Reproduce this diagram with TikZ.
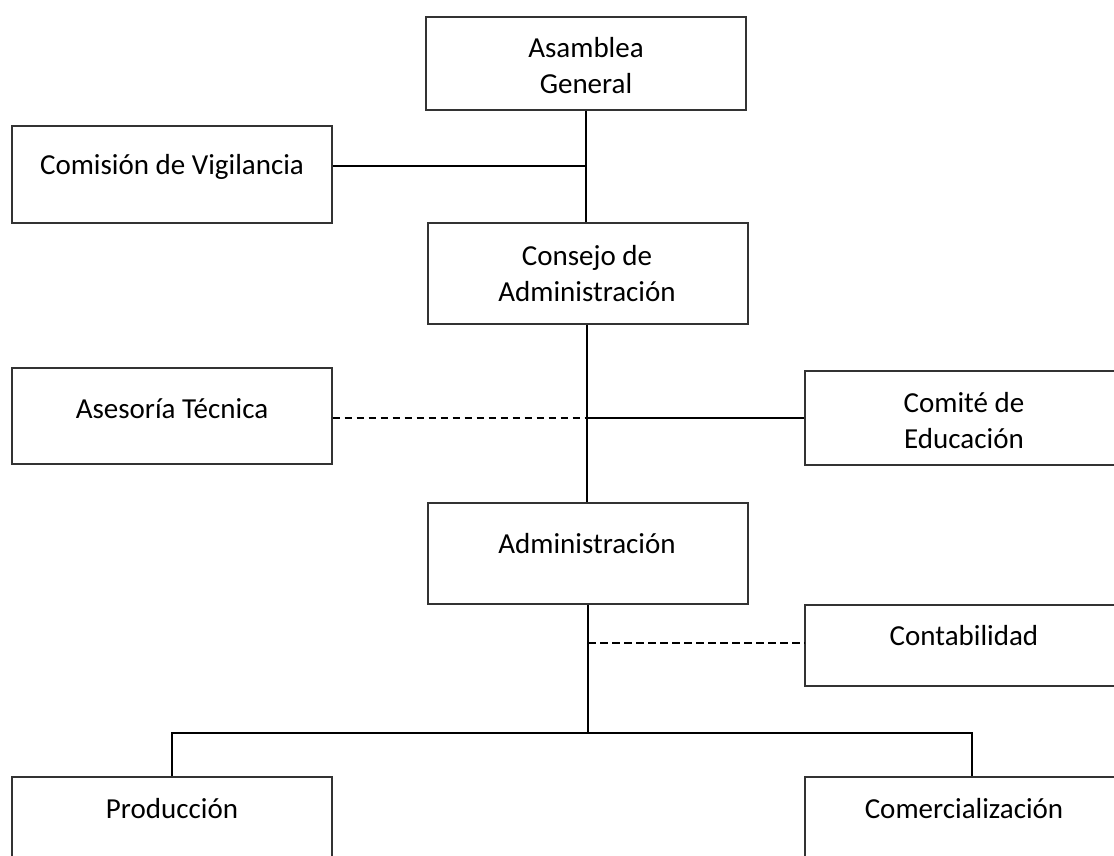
\documentclass[tikz,border=0pt]{standalone}
\usepackage{fontspec}
\setmainfont{Carlito}
\begin{document}
\begin{tikzpicture}[x=1pt,y=-1pt,
  box/.style={draw=black!80,line width=1.3pt,rectangle,minimum width=320pt,inner sep=0pt},
  lbl/.style={anchor=base,align=center,inner sep=0pt,font=\fontsize{29}{36}\selectfont},
  conn/.style={draw=black,line width=1.3pt},
  dconn/.style={conn,dash pattern=on 7.5pt off 4.5pt}]
\clip (0,0) rectangle (1114,855);
\fill[white] (0,0) rectangle (1114,855);
% boxes
\node[box,minimum height=93pt] (ag) at (586,63.5) {};
\node[box,minimum height=97pt] (cv) at (172,174.5) {};
\node[box,minimum height=101pt] (ca) at (588,273.5) {};
\node[box,minimum height=96pt] (at) at (172,416) {};
\node[box,minimum height=94pt] (ce) at (965,418) {};
\node[box,minimum height=101pt] (ad) at (588,553.5) {};
\node[box,minimum height=81pt] (co) at (965,645.5) {};
\node[box,minimum height=130pt] (pr) at (172,842) {};
\node[box,minimum height=130pt] (cm) at (965,842) {};
% texts (base anchor = baseline of the last line)
\node[lbl] (tag) at (586,93) {Asamblea\\General};
\node[lbl] (tcv) at (172,174) {Comisión de Vigilancia};
\node[lbl] (tca) at (587,301) {Consejo de\\Administración};
\node[lbl] (tat) at (172,418) {Asesoría Técnica};
\node[lbl] (tce) at (964,448) {Comité de\\Educación};
\node[lbl] (tad) at (587,553) {Administración};
\node[lbl] (tco) at (964,645) {Contabilidad};
\node[lbl] (tpr) at (172,818) {Producción};
\node[lbl] (tcm) at (964,818) {Comercialización};
% junctions
\coordinate (j1) at (586,166);
\coordinate (j2) at (587,418);
\coordinate (j3) at (588,643);
\coordinate (j4) at (588,733);
\coordinate (b1) at (172,733);
\coordinate (b2) at (972,733);
% connectors
\draw[conn] (ag.south -| j1) -- (ca.north -| j1);
\draw[conn] (cv.east |- j1) -- (j1);
\draw[conn] (ca.south -| j2) -- (ad.north -| j2);
\draw[dconn] (at.east |- j2) -- (j2);
\draw[conn] (j2) -- (ce.west |- j2);
\draw[conn] (ad.south -| j4) -- (j4);
\draw[dconn] (j3) -- (co.west |- j3);
\draw[conn] (pr.north -| b1) -- (b1) -- (b2) -- (cm.north -| b2);
\end{tikzpicture}
\end{document}
